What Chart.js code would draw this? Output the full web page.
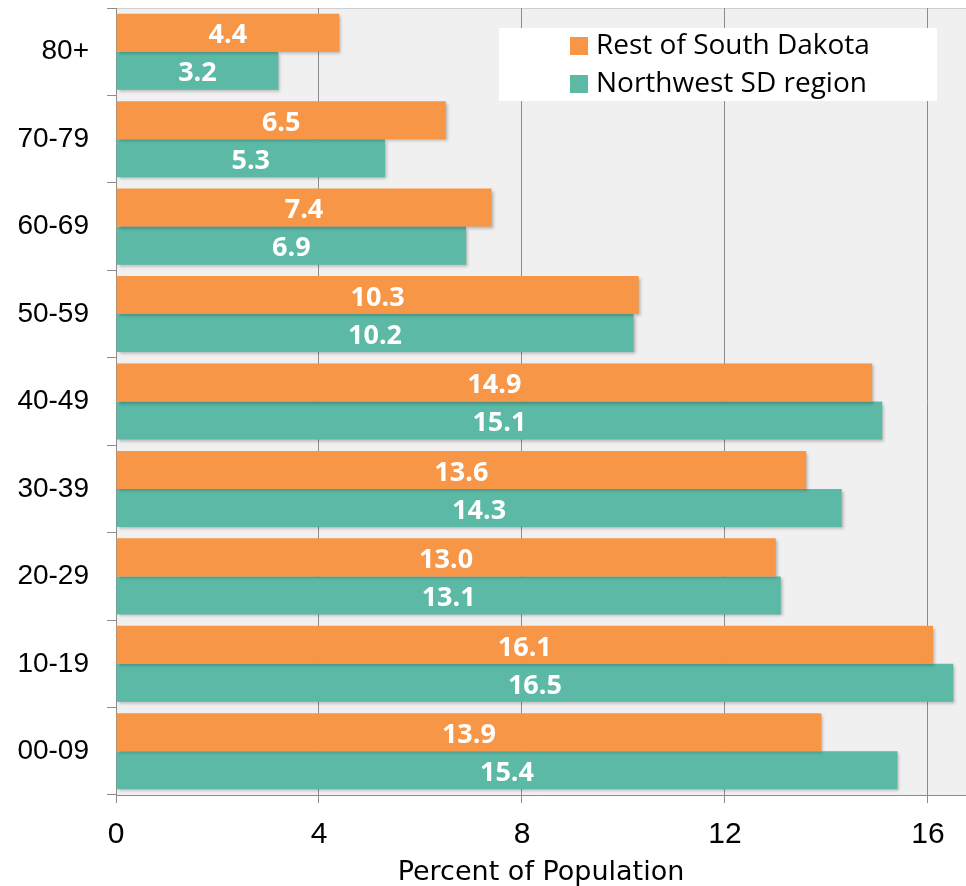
<!DOCTYPE html>
<html>
<head>
<meta charset="utf-8">
<style>
  html, body { margin: 0; padding: 0; background: #ffffff; }
  #wrap { width: 966px; height: 886px; }
</style>
<script src="https://cdn.jsdelivr.net/npm/chart.js@4/dist/chart.umd.min.js"></script>
</head>
<body>
<div id="wrap"><canvas id="ageChart" width="966" height="886"></canvas></div>
<script>
// Age groups, top to bottom
const ageGroups = ["80+", "70-79", "60-69", "50-59", "40-49", "30-39", "20-29", "10-19", "00-09"];

// Percent of population per age group
const restOfSD = [4.4, 6.5, 7.4, 10.3, 14.9, 13.6, 13.0, 16.1, 13.9];
const northwestSD = [3.2, 5.3, 6.9, 10.2, 15.1, 14.3, 13.1, 16.5, 15.4];

const seriesNames = ["Rest of South Dakota", "Northwest SD region"];
const xTicks = [0, 4, 8, 12, 16];

const orange = "#F79646";
const teal = "#5BB9A6";

// grey plot background
const plotBackground = {
    id: "plotBackground",
    beforeDraw(chart) {
        const { ctx, chartArea: a } = chart;
        ctx.save();
        ctx.fillStyle = "#f0f0f0";
        ctx.fillRect(a.left, a.top, a.right - a.left, a.bottom - a.top);
        ctx.strokeStyle = "#d0d0d0";
        ctx.lineWidth = 1;
        ctx.beginPath();
        ctx.moveTo(a.left, a.top + 0.5);
        ctx.lineTo(a.right, a.top + 0.5);
        ctx.stroke();
        ctx.restore();
    }
};

// light shadow behind bars
const barShadow = {
    id: "barShadow",
    beforeDatasetsDraw(chart) {
        const ctx = chart.ctx;
        ctx.save();
        ctx.shadowColor = "rgba(0,0,0,0.25)";
        ctx.shadowBlur = 3;
        ctx.shadowOffsetX = 2;
        ctx.shadowOffsetY = 2;
    },
    afterDatasetsDraw(chart) {
        chart.ctx.restore();
    }
};

// value labels in the middle of each bar
const barValues = {
    id: "barValues",
    afterDatasetsDraw(chart) {
        const ctx = chart.ctx;
        ctx.save();
        ctx.fillStyle = "#ffffff";
        ctx.font = "bold 27px 'Open Sans', 'Liberation Sans', sans-serif";
        ctx.textAlign = "center";
        ctx.textBaseline = "middle";
        chart.data.datasets.forEach((ds, i) => {
            chart.getDatasetMeta(i).data.forEach((bar, j) => {
                const x = (bar.base + bar.x) / 2;
                ctx.fillText(ds.data[j].toFixed(1), x, bar.y + 3);
            });
        });
        ctx.restore();
    }
};

// legend in a white box inside the plot
const boxLegend = {
    id: "boxLegend",
    afterDraw(chart) {
        const ctx = chart.ctx;
        const left = 499, top = 28, w = 438, h = 73;
        ctx.save();
        ctx.fillStyle = "#ffffff";
        ctx.fillRect(left, top, w, h);
        ctx.font = "28px 'Open Sans', 'Noto Sans', sans-serif";
        ctx.textBaseline = "middle";
        ctx.textAlign = "left";
        chart.data.datasets.forEach((ds, i) => {
            const y = top + 18 + i * 38;
            ctx.fillStyle = ds.backgroundColor;
            ctx.fillRect(570, y - 9, 18, 18);
            ctx.fillStyle = "#000000";
            ctx.fillText(ds.label, 596, y);
        });
        ctx.restore();
    }
};

const ctx = document.getElementById("ageChart").getContext("2d");
const ageChart = new Chart(ctx, {
    type: "bar",
    data: {
        labels: ageGroups,
        datasets: [
            { label: seriesNames[0], data: restOfSD, backgroundColor: orange },
            { label: seriesNames[1], data: northwestSD, backgroundColor: teal }
        ]
    },
    options: {
        indexAxis: "y",
        responsive: false,
        animation: false,
        layout: { padding: { top: 8, right: 0, left: 0, bottom: 0 } },
        datasets: {
            bar: { categoryPercentage: 0.87, barPercentage: 1.0 }
        },
        plugins: {
            legend: { display: false },
            tooltip: { enabled: false }
        },
        scales: {
            x: {
                min: 0,
                max: 16.75,
                afterBuildTicks(scale) {
                    scale.ticks = xTicks.map(v => ({ value: v }));
                },
                grid: {
                    color: "#8c8c8c",
                    lineWidth: 1,
                    tickLength: 8,
                    drawTicks: true
                },
                border: { color: "#8c8c8c" },
                ticks: {
                    color: "#000000",
                    font: { family: "'Liberation Sans', Arial, sans-serif", size: 30 },
                    padding: 14
                },
                title: {
                    display: true,
                    text: "Percent of Population",
                    color: "#000000",
                    font: { family: "'DejaVu Sans', Verdana, sans-serif", size: 27, lineHeight: 1.0 },
                    padding: { top: 2, bottom: 0 }
                },
                afterFit(scale) {
                    scale.height = 91;
                    scale.paddingLeft = 0;
                    scale.paddingRight = 0;
                }
            },
            y: {
                grid: {
                    offset: true,
                    drawOnChartArea: false,
                    color: "#8c8c8c",
                    tickLength: 9
                },
                border: { color: "#8c8c8c" },
                ticks: {
                    color: "#000000",
                    font: { family: "'Liberation Sans', Arial, sans-serif", size: 28 },
                    padding: 18
                },
                afterFit(scale) {
                    scale.width = 116;
                    scale.paddingTop = 0;
                    scale.paddingBottom = 0;
                }
            }
        }
    },
    plugins: [plotBackground, barShadow, barValues, boxLegend]
});
</script>
</body>
</html>
